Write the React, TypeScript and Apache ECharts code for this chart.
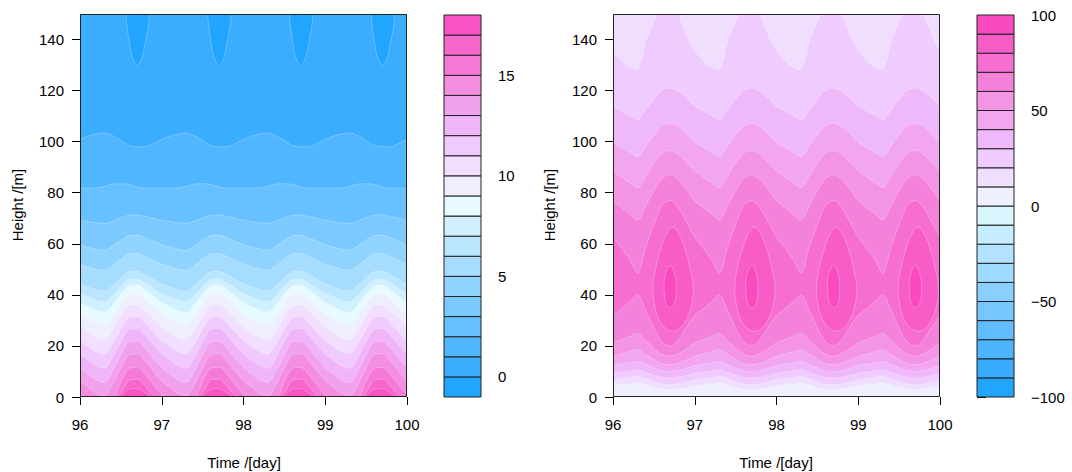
import React, { useEffect, useRef } from "react";
import * as echarts from "echarts";

const FONT = '"Liberation Sans", Arial, Helvetica, sans-serif';

const TIME = [96.0,96.1,96.2,96.3,96.4,96.5,96.6,96.7,96.8,96.9,97.0,97.1,97.2,97.3,97.4,97.5,97.6,97.7,97.8,97.9,98.0,98.1,98.2,98.3,98.4,98.5,98.6,98.7,98.8,98.9,99.0,99.1,99.2,99.3,99.4,99.5,99.6,99.7,99.8,99.9,100.0];

const X_TICKS = [96, 97, 98, 99, 100];
const Y_TICKS = [0, 20, 40, 60, 80, 100, 120, 140];

const LEFT_LEVELS = [-1,0,1,2,3,4,5,6,7,8,9,10,11,12,13,14,15,16,17,18];
const LEFT_COLORS = ['#22A5FF','#3AADFF','#50B6FF','#67C0FF','#7CC9FF','#91D3FF','#A6DDFF','#BBE6FF','#D0F0FF','#E6FAFF','#EEEEFF','#F2DEFF','#F0C9FF','#EFB5F8','#F2A2EC','#F38EE1','#F57AD7','#F766CD','#F952C4'];
const LEFT_BAR_TICKS = [0, 5, 10, 15];

const RIGHT_LEVELS = [-100,-90,-80,-70,-60,-50,-40,-30,-20,-10,0,10,20,30,40,50,60,70,80,90,100];
const RIGHT_COLORS = ['#22A5FF','#38ACFF','#4DB4FF','#62BDFF','#76C6FF','#8ACFFF','#9ED9FF','#B2E2FF','#C6ECFF','#DAF6FF','#EEF0FF','#F0DEFF','#F0CBFF','#EFB8FA','#F1A6EF','#F394E4','#F481DA','#F66FD0','#F85CC7','#F94ABF'];
const RIGHT_BAR_TICKS = [-100, -50, 0, 50, 100];

// Left panel: height [m] of contour levels 1..17 at each TIME
const LEFT_C1 = [100.8,102.2,103.0,103.4,102.3,100.4,98.5,98.0,98.0,99.3,100.8,102.2,103.0,103.4,102.3,100.4,98.5,98.0,98.0,99.3,100.8,102.2,103.0,103.4,102.3,100.4,98.5,98.0,98.0,99.3,100.8,102.2,103.0,103.4,102.3,100.4,98.5,98.0,98.0,99.3,100.8];
const LEFT_C2 = [81.8,81.8,81.9,82.5,83.4,83.5,83.3,82.2,81.8,81.8,81.8,81.8,81.9,82.5,83.4,83.5,83.3,82.2,81.8,81.8,81.8,81.8,81.9,82.5,83.4,83.5,83.3,82.2,81.8,81.8,81.8,81.8,81.9,82.5,83.4,83.5,83.3,82.2,81.8,81.8,81.8];
const LEFT_C3 = [69.2,68.7,68.2,68.0,68.9,70.2,71.2,71.3,70.7,70.0,69.2,68.7,68.2,68.0,68.9,70.2,71.2,71.3,70.7,70.0,69.2,68.7,68.2,68.0,68.9,70.2,71.2,71.3,70.7,70.0,69.2,68.7,68.2,68.0,68.9,70.2,71.2,71.3,70.7,70.0,69.2];
const LEFT_C4 = [59.6,58.7,57.9,57.5,59.2,61.4,63.2,63.4,62.3,61.0,59.6,58.7,57.9,57.5,59.2,61.4,63.2,63.4,62.3,61.0,59.6,58.7,57.9,57.5,59.2,61.4,63.2,63.4,62.3,61.0,59.6,58.7,57.9,57.5,59.2,61.4,63.2,63.4,62.3,61.0,59.6];
const LEFT_C5 = [52.0,51.0,50.0,49.6,51.5,54.0,56.1,56.2,55.0,53.5,52.0,51.0,50.0,49.6,51.5,54.0,56.1,56.2,55.0,53.5,52.0,51.0,50.0,49.6,51.5,54.0,56.1,56.2,55.0,53.5,52.0,51.0,50.0,49.6,51.5,54.0,56.1,56.2,55.0,53.5,52.0];
const LEFT_C6 = [44.3,43.1,42.0,41.5,43.7,46.7,49.1,49.3,47.9,46.1,44.3,43.1,42.0,41.5,43.7,46.7,49.1,49.3,47.9,46.1,44.3,43.1,42.0,41.5,43.7,46.7,49.1,49.3,47.9,46.1,44.3,43.1,42.0,41.5,43.7,46.7,49.1,49.3,47.9,46.1,44.3];
const LEFT_C7 = [40.5,39.2,37.9,37.4,39.8,43.2,45.9,46.1,44.6,42.5,40.5,39.2,37.9,37.4,39.8,43.2,45.9,46.1,44.6,42.5,40.5,39.2,37.9,37.4,39.8,43.2,45.9,46.1,44.6,42.5,40.5,39.2,37.9,37.4,39.8,43.2,45.9,46.1,44.6,42.5,40.5];
const LEFT_C8 = [37.0,35.4,33.8,33.2,36.2,40.3,43.6,43.9,42.0,39.5,37.0,35.4,33.8,33.2,36.2,40.3,43.6,43.9,42.0,39.5,37.0,35.4,33.8,33.2,36.2,40.3,43.6,43.9,42.0,39.5,37.0,35.4,33.8,33.2,36.2,40.3,43.6,43.9,42.0,39.5,37.0];
const LEFT_C9 = [32.5,30.6,28.9,28.1,31.6,36.3,40.1,40.4,38.2,35.3,32.5,30.6,28.9,28.1,31.6,36.3,40.1,40.4,38.2,35.3,32.5,30.6,28.9,28.1,31.6,36.3,40.1,40.4,38.2,35.3,32.5,30.6,28.9,28.1,31.6,36.3,40.1,40.4,38.2,35.3,32.5];
const LEFT_C10 = [27.3,25.2,23.2,22.4,26.3,31.5,35.7,36.1,33.6,30.5,27.3,25.2,23.2,22.4,26.3,31.5,35.7,36.1,33.6,30.5,27.3,25.2,23.2,22.4,26.3,31.5,35.7,36.1,33.6,30.5,27.3,25.2,23.2,22.4,26.3,31.5,35.7,36.1,33.6,30.5,27.3];
const LEFT_C11 = [22.0,19.8,17.7,16.8,20.9,26.5,31.0,31.4,28.8,25.4,22.0,19.8,17.7,16.8,20.9,26.5,31.0,31.4,28.8,25.4,22.0,19.8,17.7,16.8,20.9,26.5,31.0,31.4,28.8,25.4,22.0,19.8,17.7,16.8,20.9,26.5,31.0,31.4,28.8,25.4,22.0];
const LEFT_C12 = [16.8,14.4,12.2,11.2,15.6,21.6,26.4,26.8,24.0,20.4,16.8,14.4,12.2,11.2,15.6,21.6,26.4,26.8,24.0,20.4,16.8,14.4,12.2,11.2,15.6,21.6,26.4,26.8,24.0,20.4,16.8,14.4,12.2,11.2,15.6,21.6,26.4,26.8,24.0,20.4,16.8];
const LEFT_C13 = [11.5,9.0,6.7,5.7,10.3,16.5,21.5,21.9,19.0,15.2,11.5,9.0,6.7,5.7,10.3,16.5,21.5,21.9,19.0,15.2,11.5,9.0,6.7,5.7,10.3,16.5,21.5,21.9,19.0,15.2,11.5,9.0,6.7,5.7,10.3,16.5,21.5,21.9,19.0,15.2,11.5];
const LEFT_C14 = [6.3,3.8,1.4,0.4,5.0,11.4,16.5,16.9,14.0,10.1,6.3,3.8,1.4,0.4,5.0,11.4,16.5,16.9,14.0,10.1,6.3,3.8,1.4,0.4,5.0,11.4,16.5,16.9,14.0,10.1,6.3,3.8,1.4,0.4,5.0,11.4,16.5,16.9,14.0,10.1,6.3];
const LEFT_C15 = [1.0,0,0,0,0,6.1,11.2,11.6,8.7,4.8,1.0,0,0,0,0,6.1,11.2,11.6,8.7,4.8,1.0,0,0,0,0,6.1,11.2,11.6,8.7,4.8,1.0,0,0,0,0,6.1,11.2,11.6,8.7,4.8,1.0];
const LEFT_C16 = [0,0,0,0,0,1.8,6.6,7.0,4.2,0.6,0,0,0,0,0,1.8,6.6,7.0,4.2,0.6,0,0,0,0,0,1.8,6.6,7.0,4.2,0.6,0,0,0,0,0,1.8,6.6,7.0,4.2,0.6,0];
const LEFT_C17 = [0,0,0,0,0,0.5,3.0,3.3,1.5,0,0,0,0,0,0,0.5,3.0,3.3,1.5,0,0,0,0,0,0,0.5,3.0,3.3,1.5,0,0,0,0,0,0,0.5,3.0,3.3,1.5,0,0];
const LEFT_CONTOURS = [LEFT_C1,LEFT_C2,LEFT_C3,LEFT_C4,LEFT_C5,LEFT_C6,LEFT_C7,LEFT_C8,LEFT_C9,LEFT_C10,LEFT_C11,LEFT_C12,LEFT_C13,LEFT_C14,LEFT_C15,LEFT_C16,LEFT_C17];

// Left panel: dips of value < 0 hanging from the top
const LEFT_DIP_H = [150, 144, 137.5, 133, 130, 133, 137.5, 144, 150];
const LEFT_DIP_T1 = [96.56, 96.58, 96.61, 96.64, 96.70, 96.76, 96.79, 96.83, 96.85];
const LEFT_DIP_T2 = [97.56, 97.58, 97.61, 97.64, 97.70, 97.76, 97.79, 97.83, 97.85];
const LEFT_DIP_T3 = [98.56, 98.58, 98.61, 98.64, 98.70, 98.76, 98.79, 98.83, 98.85];
const LEFT_DIP_T4 = [99.56, 99.58, 99.61, 99.64, 99.70, 99.76, 99.79, 99.83, 99.85];

// Right panel: lower contours (value rises upward) and upper contours (value falls upward)
const RIGHT_D10 = [4.4,4.8,5.1,5.5,4.7,3.8,3.1,2.9,3.2,3.7,4.4,4.8,5.1,5.5,4.7,3.8,3.1,2.9,3.2,3.7,4.4,4.8,5.1,5.5,4.7,3.8,3.1,2.9,3.2,3.7,4.4,4.8,5.1,5.5,4.7,3.8,3.1,2.9,3.2,3.7,4.4];
const RIGHT_D20 = [6.7,7.2,7.6,8.1,7.1,6.0,5.1,4.8,5.2,5.9,6.7,7.2,7.6,8.1,7.1,6.0,5.1,4.8,5.2,5.9,6.7,7.2,7.6,8.1,7.1,6.0,5.1,4.8,5.2,5.9,6.7,7.2,7.6,8.1,7.1,6.0,5.1,4.8,5.2,5.9,6.7];
const RIGHT_D30 = [9.3,9.8,10.2,10.7,9.7,8.6,7.7,7.4,7.8,8.5,9.3,9.8,10.2,10.7,9.7,8.6,7.7,7.4,7.8,8.5,9.3,9.8,10.2,10.7,9.7,8.6,7.7,7.4,7.8,8.5,9.3,9.8,10.2,10.7,9.7,8.6,7.7,7.4,7.8,8.5,9.3];
const RIGHT_D40 = [12.3,12.9,13.4,14.0,12.8,11.4,10.3,10.0,10.4,11.3,12.3,12.9,13.4,14.0,12.8,11.4,10.3,10.0,10.4,11.3,12.3,12.9,13.4,14.0,12.8,11.4,10.3,10.0,10.4,11.3,12.3,12.9,13.4,14.0,12.8,11.4,10.3,10.0,10.4,11.3,12.3];
const RIGHT_D50 = [16.0,16.8,17.7,18.5,16.7,14.7,13.1,12.6,13.3,14.5,16.0,16.8,17.7,18.5,16.7,14.7,13.1,12.6,13.3,14.5,16.0,16.8,17.7,18.5,16.7,14.7,13.1,12.6,13.3,14.5,16.0,16.8,17.7,18.5,16.7,14.7,13.1,12.6,13.3,14.5,16.0];
const RIGHT_D60 = [21.2,22.4,23.7,25.0,22.2,19.2,16.7,16.0,17.0,18.9,21.2,22.4,23.7,25.0,22.2,19.2,16.7,16.0,17.0,18.9,21.2,22.4,23.7,25.0,22.2,19.2,16.7,16.0,17.0,18.9,21.2,22.4,23.7,25.0,22.2,19.2,16.7,16.0,17.0,18.9,21.2];
const RIGHT_D70 = [32.0,34.5,37.2,40.0,34.0,27.0,21.5,20.0,22.5,27.5,32.0,34.5,37.2,40.0,34.0,27.0,21.5,20.0,22.5,27.5,32.0,34.5,37.2,40.0,34.0,27.0,21.5,20.0,22.5,27.5,32.0,34.5,37.2,40.0,34.0,27.0,21.5,20.0,22.5,27.5,32.0];
const RIGHT_U70 = [62.5,58.5,54.0,48.5,58.5,67.5,75.0,77.0,74.0,68.5,62.5,58.5,54.0,48.5,58.5,67.5,75.0,77.0,74.0,68.5,62.5,58.5,54.0,48.5,58.5,67.5,75.0,77.0,74.0,68.5,62.5,58.5,54.0,48.5,58.5,67.5,75.0,77.0,74.0,68.5,62.5];
const RIGHT_U60 = [76.8,74.3,71.8,69.3,74.8,80.8,85.7,87.0,85.1,81.3,76.8,74.3,71.8,69.3,74.8,80.8,85.7,87.0,85.1,81.3,76.8,74.3,71.8,69.3,74.8,80.8,85.7,87.0,85.1,81.3,76.8,74.3,71.8,69.3,74.8,80.8,85.7,87.0,85.1,81.3,76.8];
const RIGHT_U50 = [88.5,86.2,84.0,82.0,86.5,91.5,95.5,96.6,95.0,91.8,88.5,86.2,84.0,82.0,86.5,91.5,95.5,96.6,95.0,91.8,88.5,86.2,84.0,82.0,86.5,91.5,95.5,96.6,95.0,91.8,88.5,86.2,84.0,82.0,86.5,91.5,95.5,96.6,95.0,91.8,88.5];
const RIGHT_U40 = [99.7,97.8,95.9,94.1,98.2,102.6,106.2,107.2,105.8,103.0,99.7,97.8,95.9,94.1,98.2,102.6,106.2,107.2,105.8,103.0,99.7,97.8,95.9,94.1,98.2,102.6,106.2,107.2,105.8,103.0,99.7,97.8,95.9,94.1,98.2,102.6,106.2,107.2,105.8,103.0,99.7];
const RIGHT_U30 = [113.8,112.1,110.3,108.5,112.4,116.6,120.1,121.0,119.6,117.0,113.8,112.1,110.3,108.5,112.4,116.6,120.1,121.0,119.6,117.0,113.8,112.1,110.3,108.5,112.4,116.6,120.1,121.0,119.6,117.0,113.8,112.1,110.3,108.5,112.4,116.6,120.1,121.0,119.6,117.0,113.8];
const RIGHT_LOWER = [RIGHT_D10, RIGHT_D20, RIGHT_D30, RIGHT_D40, RIGHT_D50, RIGHT_D60, RIGHT_D70];
const RIGHT_LOWER_LEVELS = [10, 20, 30, 40, 50, 60, 70];
const RIGHT_UPPER = [RIGHT_U70, RIGHT_U60, RIGHT_U50, RIGHT_U40, RIGHT_U30];
const RIGHT_UPPER_LEVELS = [70, 60, 50, 40, 30];

// Right panel: light patches (value < 20) hanging from the top
const RIGHT_PATCH_T0 = [96.0, 96.09, 96.21, 96.29, 96.35, 96.395, 96.46, 96.54];
const RIGHT_PATCH_H0 = [135, 132, 129, 128, 132, 138.5, 144, 150];
const RIGHT_PATCH_H = [150, 145, 138.5, 132, 129, 128, 132, 138.5, 144, 150];
const RIGHT_PATCH_T1 = [96.80, 96.86, 96.945, 97.09, 97.21, 97.29, 97.35, 97.395, 97.46, 97.54];
const RIGHT_PATCH_T2 = [97.80, 97.86, 97.945, 98.09, 98.21, 98.29, 98.35, 98.395, 98.46, 98.54];
const RIGHT_PATCH_T3 = [98.80, 98.86, 98.945, 99.09, 99.21, 99.29, 99.35, 99.395, 99.46, 99.54];
const RIGHT_PATCH_T4 = [99.80, 99.86, 99.945, 100.0];
const RIGHT_PATCH_H4 = [150, 145, 138.5, 136];

// Right panel: closed contours of the maxima (80 and 90)
const RIGHT_OUTER_H = [66.5, 63.5, 57, 49, 43, 36, 30.5, 27, 25.8, 27, 30.5, 36, 43, 50, 57.5, 63.5];
const RIGHT_OUTER_T1 = [96.73, 96.81, 96.89, 96.95, 96.98, 96.96, 96.90, 96.82, 96.73, 96.64, 96.56, 96.51, 96.49, 96.52, 96.58, 96.65];
const RIGHT_OUTER_T2 = [97.73, 97.81, 97.89, 97.95, 97.98, 97.96, 97.90, 97.82, 97.73, 97.64, 97.56, 97.51, 97.49, 97.52, 97.58, 97.65];
const RIGHT_OUTER_T3 = [98.73, 98.81, 98.89, 98.95, 98.98, 98.96, 98.90, 98.82, 98.73, 98.64, 98.56, 98.51, 98.49, 98.52, 98.58, 98.65];
const RIGHT_OUTER_T4 = [99.73, 99.81, 99.89, 99.95, 99.98, 99.96, 99.90, 99.82, 99.73, 99.64, 99.56, 99.51, 99.49, 99.52, 99.58, 99.65];
const RIGHT_INNER_H = [51.5, 49.5, 45, 40, 36.5, 35, 36.5, 40, 45, 49.5];
const RIGHT_INNER_T1 = [96.70, 96.74, 96.77, 96.77, 96.75, 96.70, 96.65, 96.63, 96.625, 96.655];
const RIGHT_INNER_T2 = [97.70, 97.74, 97.77, 97.77, 97.75, 97.70, 97.65, 97.63, 97.625, 97.655];
const RIGHT_INNER_T3 = [98.70, 98.74, 98.77, 98.77, 98.75, 98.70, 98.65, 98.63, 98.625, 98.655];
const RIGHT_INNER_T4 = [99.70, 99.74, 99.77, 99.77, 99.75, 99.70, 99.65, 99.63, 99.625, 99.655];

const SEAM = "rgba(255,255,255,0.32)";

function pts(arr: number[]) {
  return TIME.map((t, i) => [t, arr[i]]);
}
function zip(ts: number[], hs: number[]) {
  return ts.map((t, i) => [t, hs[i]]);
}
function areaSeries(axis: number, data: number[][], color: string, origin: string) {
  return {
    type: "line",
    xAxisIndex: axis,
    yAxisIndex: axis,
    data,
    smooth: 0.3,
    symbol: "none",
    showSymbol: false,
    silent: true,
    clip: true,
    lineStyle: { width: 0.8, color: SEAM },
    areaStyle: { color, opacity: 1, origin },
    emphasis: { disabled: true },
    z: 2,
  };
}

function frame(axis: number) {
  return {
    type: "custom",
    xAxisIndex: axis,
    yAxisIndex: axis,
    silent: true,
    clip: false,
    z: 10,
    data: [[X_TICKS[0], Y_TICKS[0]]],
    renderItem: (params: any) => {
      const cs = params.coordSys;
      return {
        type: "rect",
        shape: { x: Math.round(cs.x) + 0.5, y: Math.round(cs.y) + 0.5, width: Math.round(cs.width) - 1, height: Math.round(cs.height) - 1 },
        style: { fill: "none", stroke: "#222", lineWidth: 1 },
      };
    },
  };
}

function colorBar(axis: number, levels: number[], colors: string[]) {
  return {
    type: "custom",
    xAxisIndex: axis,
    yAxisIndex: axis,
    silent: true,
    data: colors.map((c, i) => [0.5, (levels[i] + levels[i + 1]) / 2]),
    renderItem: (params: any, api: any) => {
      const i = params.dataIndex;
      const p0 = api.coord([0, levels[i]]);
      const p1 = api.coord([1, levels[i + 1]]);
      return {
        type: "rect",
        shape: { x: p0[0], y: p1[1], width: p1[0] - p0[0], height: p0[1] - p1[1] },
        style: { fill: colors[i], stroke: "#222", lineWidth: 1 },
      };
    },
  };
}

const axisText = { color: "#000", fontSize: 15, fontFamily: FONT };

function mainX(grid: number) {
  return {
    gridIndex: grid, type: "value", min: 96, max: 100,
    axisLine: { show: false },
    axisTick: { show: true, length: 8, customValues: X_TICKS, lineStyle: { color: "#000" } },
    axisLabel: { ...axisText, margin: 20, customValues: X_TICKS },
    splitLine: { show: false },
  };
}
function mainY(grid: number) {
  return {
    gridIndex: grid, type: "value", min: 0, max: 150,
    axisLine: { show: false },
    axisTick: { show: true, length: 8, customValues: Y_TICKS, lineStyle: { color: "#000" } },
    axisLabel: { ...axisText, margin: 16, customValues: Y_TICKS },
    splitLine: { show: false },
  };
}

export default function App() {
  const ref = useRef<HTMLDivElement>(null);
  useEffect(() => {
    document.body.style.margin = "0";
    if (!ref.current) return;
    const chart = echarts.init(ref.current, undefined, { renderer: "svg" });

    const series: any[] = [];
    // left panel
    LEFT_CONTOURS.forEach((c, i) => {
      series.push(areaSeries(0, pts(c), LEFT_COLORS[i + 2], "start"));
    });
    [LEFT_DIP_T1, LEFT_DIP_T2, LEFT_DIP_T3, LEFT_DIP_T4].forEach((t) => {
      series.push(areaSeries(0, zip(t, LEFT_DIP_H), LEFT_COLORS[0], "end"));
    });
    // right panel
    RIGHT_LOWER.forEach((c, i) => {
      const idx = (RIGHT_LOWER_LEVELS[i] + 100) / 10;
      series.push(areaSeries(1, pts(c), RIGHT_COLORS[idx], "end"));
    });
    RIGHT_UPPER.forEach((c, i) => {
      const idx = (RIGHT_UPPER_LEVELS[i] - 10 + 100) / 10;
      series.push(areaSeries(1, pts(c), RIGHT_COLORS[idx], "end"));
    });
    const patchColor = RIGHT_COLORS[11];
    series.push(areaSeries(1, zip(RIGHT_PATCH_T0, RIGHT_PATCH_H0), patchColor, "end"));
    [RIGHT_PATCH_T1, RIGHT_PATCH_T2, RIGHT_PATCH_T3].forEach((t) => {
      series.push(areaSeries(1, zip(t, RIGHT_PATCH_H), patchColor, "end"));
    });
    series.push(areaSeries(1, zip(RIGHT_PATCH_T4, RIGHT_PATCH_H4), patchColor, "end"));

    const ellipses = [
      { t: RIGHT_OUTER_T1, h: RIGHT_OUTER_H, c: 18 },
      { t: RIGHT_OUTER_T2, h: RIGHT_OUTER_H, c: 18 },
      { t: RIGHT_OUTER_T3, h: RIGHT_OUTER_H, c: 18 },
      { t: RIGHT_OUTER_T4, h: RIGHT_OUTER_H, c: 18 },
      { t: RIGHT_INNER_T1, h: RIGHT_INNER_H, c: 19 },
      { t: RIGHT_INNER_T2, h: RIGHT_INNER_H, c: 19 },
      { t: RIGHT_INNER_T3, h: RIGHT_INNER_H, c: 19 },
      { t: RIGHT_INNER_T4, h: RIGHT_INNER_H, c: 19 },
    ];
    series.push({
      type: "custom",
      xAxisIndex: 1,
      yAxisIndex: 1,
      clip: true,
      silent: true,
      z: 3,
      data: ellipses.map((e) => [e.t[0], e.h[0]]),
      renderItem: (params: any, api: any) => {
        const e = ellipses[params.dataIndex];
        const points = e.t.map((t, j) => api.coord([t, e.h[j]]));
        return {
          type: "polygon",
          shape: { points, smooth: 0.45 },
          style: { fill: RIGHT_COLORS[e.c], stroke: SEAM, lineWidth: 0.8 },
        };
      },
    });

    series.push(frame(0));
    series.push(frame(1));
    series.push(colorBar(2, LEFT_LEVELS, LEFT_COLORS));
    series.push(colorBar(3, RIGHT_LEVELS, RIGHT_COLORS));

    const titleStyle = (text: string) => ({
      text,
      fill: "#000",
      font: `15px ${FONT}`,
      textAlign: "center",
      textVerticalAlign: "middle",
      align: "center",
      verticalAlign: "middle",
    });

    chart.setOption({
      animation: false,
      backgroundColor: "#fff",
      grid: [
        { left: 80, top: 14, width: 327, height: 383, show: true, backgroundColor: LEFT_COLORS[1], borderWidth: 0 },
        { left: 613, top: 14, width: 327, height: 383, show: true, backgroundColor: RIGHT_COLORS[10], borderWidth: 0 },
        { left: 444, top: 15, width: 37, height: 382 },
        { left: 977, top: 15, width: 37, height: 382 },
      ],
      xAxis: [
        mainX(0),
        mainX(1),
        { gridIndex: 2, type: "value", min: 0, max: 1, show: false },
        { gridIndex: 3, type: "value", min: 0, max: 1, show: false },
      ],
      yAxis: [
        mainY(0),
        mainY(1),
        {
          gridIndex: 2, type: "value", min: -1, max: 18, position: "right",
          axisLine: { show: false },
          axisTick: { show: true, length: 9, customValues: LEFT_BAR_TICKS, lineStyle: { color: "#000" } },
          axisLabel: { ...axisText, margin: 17, customValues: LEFT_BAR_TICKS },
          splitLine: { show: false },
        },
        {
          gridIndex: 3, type: "value", min: -100, max: 100, position: "right",
          axisLine: { show: false },
          axisTick: { show: true, length: 9, customValues: RIGHT_BAR_TICKS, lineStyle: { color: "#000" } },
          axisLabel: {
            ...axisText, margin: 17, customValues: RIGHT_BAR_TICKS,
            formatter: (v: number) => String(v).replace("-", "\u2212"),
          },
          splitLine: { show: false },
        },
      ],
      graphic: [
        { type: "text", x: 244, y: 462, style: titleStyle("Time /[day]") },
        { type: "text", x: 776, y: 462, style: titleStyle("Time /[day]") },
        { type: "text", x: 17, y: 205, rotation: Math.PI / 2, style: titleStyle("Height /[m]") },
        { type: "text", x: 549, y: 205, rotation: Math.PI / 2, style: titleStyle("Height /[m]") },
      ],
      series,
    });
    return () => chart.dispose();
  }, []);
  return <div ref={ref} style={{ width: 1072, height: 472 }} />;
}
